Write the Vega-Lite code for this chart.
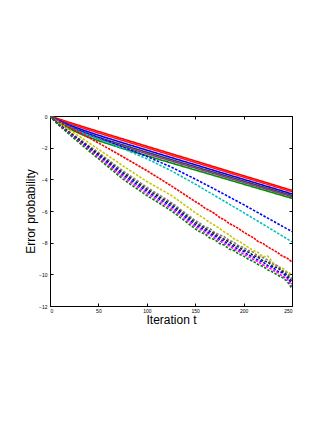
{
  "$schema": "https://vega.github.io/schema/vega-lite/v6.json",
  "width": 242,
  "height": 190,
  "autosize": {"type": "none"},
  "padding": {"left": 50, "top": 116, "right": 40, "bottom": 124},
  "background": "white",
  "config": {
    "view": {"stroke": "black", "strokeWidth": 1},
    "axis": {
      "grid": false,
      "domainColor": "black",
      "tickColor": "black",
      "tickSize": -3,
      "labelFont": "Liberation Sans",
      "labelFontSize": 5,
      "labelColor": "black",
      "titleFont": "Liberation Sans",
      "titleFontWeight": "normal",
      "titleFontSize": 12,
      "titleColor": "black"
    }
  },
  "layer": [
    {
      "data": {"values": [
        {"s":"S1","x":0,"y":0},{"s":"S1","x":5,"y":-0.104},{"s":"S1","x":10,"y":-0.206},{"s":"S1","x":20,"y":-0.404},{"s":"S1","x":35,"y":-0.692},{"s":"S1","x":50,"y":-0.976},{"s":"S1","x":75,"y":-1.444},{"s":"S1","x":100,"y":-1.91},{"s":"S1","x":125,"y":-2.375},{"s":"S1","x":150,"y":-2.84},{"s":"S1","x":175,"y":-3.305},{"s":"S1","x":200,"y":-3.77},{"s":"S1","x":225,"y":-4.235},{"s":"S1","x":250,"y":-4.7},
        {"s":"S2","x":0,"y":0},{"s":"S2","x":5,"y":-0.128},{"s":"S2","x":10,"y":-0.248},{"s":"S2","x":20,"y":-0.471},{"s":"S2","x":35,"y":-0.78},{"s":"S2","x":50,"y":-1.072},{"s":"S2","x":75,"y":-1.544},{"s":"S2","x":100,"y":-2.009},{"s":"S2","x":125,"y":-2.473},{"s":"S2","x":150,"y":-2.935},{"s":"S2","x":175,"y":-3.398},{"s":"S2","x":200,"y":-3.86},{"s":"S2","x":225,"y":-4.323},{"s":"S2","x":250,"y":-4.785},
        {"s":"S3","x":0,"y":0},{"s":"S3","x":5,"y":-0.163},{"s":"S3","x":10,"y":-0.31},{"s":"S3","x":20,"y":-0.57},{"s":"S3","x":35,"y":-0.908},{"s":"S3","x":50,"y":-1.214},{"s":"S3","x":75,"y":-1.692},{"s":"S3","x":100,"y":-2.158},{"s":"S3","x":125,"y":-2.62},{"s":"S3","x":150,"y":-3.08},{"s":"S3","x":175,"y":-3.54},{"s":"S3","x":200,"y":-4.0},{"s":"S3","x":225,"y":-4.46},{"s":"S3","x":250,"y":-4.92},
        {"s":"S4","x":0,"y":0},{"s":"S4","x":5,"y":-0.195},{"s":"S4","x":10,"y":-0.367},{"s":"S4","x":20,"y":-0.661},{"s":"S4","x":35,"y":-1.025},{"s":"S4","x":50,"y":-1.341},{"s":"S4","x":75,"y":-1.824},{"s":"S4","x":100,"y":-2.287},{"s":"S4","x":125,"y":-2.745},{"s":"S4","x":150,"y":-3.2},{"s":"S4","x":175,"y":-3.655},{"s":"S4","x":200,"y":-4.11},{"s":"S4","x":225,"y":-4.565},{"s":"S4","x":250,"y":-5.02},
        {"s":"S5","x":0,"y":0},{"s":"S5","x":5,"y":-0.218},{"s":"S5","x":10,"y":-0.407},{"s":"S5","x":20,"y":-0.725},{"s":"S5","x":35,"y":-1.109},{"s":"S5","x":50,"y":-1.433},{"s":"S5","x":75,"y":-1.919},{"s":"S5","x":100,"y":-2.381},{"s":"S5","x":125,"y":-2.838},{"s":"S5","x":150,"y":-3.29},{"s":"S5","x":175,"y":-3.743},{"s":"S5","x":200,"y":-4.195},{"s":"S5","x":225,"y":-4.648},{"s":"S5","x":250,"y":-5.1},
        {"s":"S6","x":0,"y":0},{"s":"S6","x":5,"y":-0.25},{"s":"S6","x":10,"y":-0.464},{"s":"S6","x":20,"y":-0.816},{"s":"S6","x":35,"y":-1.226},{"s":"S6","x":50,"y":-1.561},{"s":"S6","x":75,"y":-2.05},{"s":"S6","x":100,"y":-2.51},{"s":"S6","x":125,"y":-2.963},{"s":"S6","x":150,"y":-3.41},{"s":"S6","x":175,"y":-3.858},{"s":"S6","x":200,"y":-4.305},{"s":"S6","x":225,"y":-4.753},{"s":"S6","x":250,"y":-5.2},
        {"s":"S7","x":0,"y":0},{"s":"S7","x":5,"y":-0.19},{"s":"S7","x":10,"y":-0.36},{"s":"S7","x":20,"y":-0.65},{"s":"S7","x":35,"y":-1.02},{"s":"S7","x":50,"y":-1.36},{"s":"S7","x":75,"y":-1.95},{"s":"S7","x":100,"y":-2.55},{"s":"S7","x":125,"y":-3.22},{"s":"S7","x":150,"y":-3.98},{"s":"S7","x":175,"y":-4.78},{"s":"S7","x":200,"y":-5.6},{"s":"S7","x":225,"y":-6.45},{"s":"S7","x":250,"y":-7.3},
        {"s":"S8","x":0,"y":0},{"s":"S8","x":5,"y":-0.2},{"s":"S8","x":10,"y":-0.38},{"s":"S8","x":20,"y":-0.68},{"s":"S8","x":35,"y":-1.1},{"s":"S8","x":50,"y":-1.45},{"s":"S8","x":75,"y":-2.05},{"s":"S8","x":100,"y":-2.7},{"s":"S8","x":125,"y":-3.45},{"s":"S8","x":150,"y":-4.3},{"s":"S8","x":175,"y":-5.2},{"s":"S8","x":200,"y":-6.1},{"s":"S8","x":225,"y":-7.02},{"s":"S8","x":250,"y":-7.95},
        {"s":"S9","x":0,"y":0},{"s":"S9","x":5,"y":-0.22},{"s":"S9","x":10,"y":-0.4},{"s":"S9","x":20,"y":-0.72},{"s":"S9","x":35,"y":-1.2},{"s":"S9","x":50,"y":-1.7},{"s":"S9","x":75,"y":-2.56},{"s":"S9","x":100,"y":-3.45},{"s":"S9","x":125,"y":-4.4},{"s":"S9","x":150,"y":-5.4},{"s":"S9","x":155,"y":-5.58},{"s":"S9","x":160,"y":-5.82},{"s":"S9","x":165,"y":-5.98},{"s":"S9","x":170,"y":-6.16},{"s":"S9","x":175,"y":-6.4},{"s":"S9","x":180,"y":-6.55},{"s":"S9","x":185,"y":-6.78},{"s":"S9","x":190,"y":-6.94},{"s":"S9","x":195,"y":-7.12},{"s":"S9","x":200,"y":-7.33},{"s":"S9","x":205,"y":-7.52},{"s":"S9","x":210,"y":-7.68},{"s":"S9","x":215,"y":-7.93},{"s":"S9","x":220,"y":-8.05},{"s":"S9","x":225,"y":-8.27},{"s":"S9","x":230,"y":-8.44},{"s":"S9","x":235,"y":-8.62},{"s":"S9","x":240,"y":-8.85},{"s":"S9","x":245,"y":-8.98},{"s":"S9","x":250,"y":-9.22},
        {"s":"S10","x":0,"y":0},{"s":"S10","x":5,"y":-0.25},{"s":"S10","x":10,"y":-0.47},{"s":"S10","x":20,"y":-0.87},{"s":"S10","x":35,"y":-1.48},{"s":"S10","x":50,"y":-2.1},{"s":"S10","x":75,"y":-3.13},{"s":"S10","x":100,"y":-4.14},{"s":"S10","x":125,"y":-5.0},{"s":"S10","x":150,"y":-6.1},{"s":"S10","x":155,"y":-6.3},{"s":"S10","x":160,"y":-6.5},{"s":"S10","x":165,"y":-6.72},{"s":"S10","x":170,"y":-6.9},{"s":"S10","x":175,"y":-7.1},{"s":"S10","x":180,"y":-7.32},{"s":"S10","x":185,"y":-7.5},{"s":"S10","x":190,"y":-7.75},{"s":"S10","x":195,"y":-7.9},{"s":"S10","x":200,"y":-8.1},{"s":"S10","x":205,"y":-8.3},{"s":"S10","x":210,"y":-8.5},{"s":"S10","x":215,"y":-8.62},{"s":"S10","x":220,"y":-8.9},{"s":"S10","x":225,"y":-8.85},{"s":"S10","x":230,"y":-9.25},{"s":"S10","x":235,"y":-9.5},{"s":"S10","x":240,"y":-9.6},{"s":"S10","x":245,"y":-9.85},{"s":"S10","x":250,"y":-10.0},
        {"s":"S11","x":0,"y":0},{"s":"S11","x":5,"y":-0.3},{"s":"S11","x":10,"y":-0.55},{"s":"S11","x":20,"y":-1.0},{"s":"S11","x":35,"y":-1.65},{"s":"S11","x":50,"y":-2.3},{"s":"S11","x":75,"y":-3.45},{"s":"S11","x":100,"y":-4.5},{"s":"S11","x":125,"y":-5.45},{"s":"S11","x":150,"y":-6.6},{"s":"S11","x":155,"y":-6.78},{"s":"S11","x":160,"y":-7.0},{"s":"S11","x":165,"y":-7.1},{"s":"S11","x":170,"y":-7.35},{"s":"S11","x":175,"y":-7.5},{"s":"S11","x":180,"y":-7.62},{"s":"S11","x":185,"y":-7.85},{"s":"S11","x":190,"y":-7.98},{"s":"S11","x":195,"y":-8.2},{"s":"S11","x":200,"y":-8.3},{"s":"S11","x":205,"y":-8.5},{"s":"S11","x":210,"y":-8.6},{"s":"S11","x":215,"y":-8.85},{"s":"S11","x":220,"y":-8.95},{"s":"S11","x":225,"y":-9.1},{"s":"S11","x":230,"y":-9.35},{"s":"S11","x":235,"y":-9.45},{"s":"S11","x":240,"y":-9.75},{"s":"S11","x":245,"y":-9.9},{"s":"S11","x":250,"y":-10.3},
        {"s":"S12","x":0,"y":0},{"s":"S12","x":5,"y":-0.31},{"s":"S12","x":10,"y":-0.57},{"s":"S12","x":20,"y":-1.04},{"s":"S12","x":35,"y":-1.72},{"s":"S12","x":50,"y":-2.4},{"s":"S12","x":75,"y":-3.57},{"s":"S12","x":100,"y":-4.62},{"s":"S12","x":125,"y":-5.57},{"s":"S12","x":150,"y":-6.72},{"s":"S12","x":155,"y":-6.92},{"s":"S12","x":160,"y":-7.08},{"s":"S12","x":165,"y":-7.27},{"s":"S12","x":170,"y":-7.45},{"s":"S12","x":175,"y":-7.64},{"s":"S12","x":180,"y":-7.78},{"s":"S12","x":185,"y":-7.95},{"s":"S12","x":190,"y":-8.15},{"s":"S12","x":195,"y":-8.28},{"s":"S12","x":200,"y":-8.47},{"s":"S12","x":205,"y":-8.6},{"s":"S12","x":210,"y":-8.8},{"s":"S12","x":215,"y":-8.92},{"s":"S12","x":220,"y":-9.15},{"s":"S12","x":225,"y":-9.22},{"s":"S12","x":230,"y":-9.5},{"s":"S12","x":235,"y":-9.58},{"s":"S12","x":240,"y":-9.82},{"s":"S12","x":245,"y":-10.05},{"s":"S12","x":250,"y":-10.45},
        {"s":"S13","x":0,"y":0},{"s":"S13","x":5,"y":-0.32},{"s":"S13","x":10,"y":-0.59},{"s":"S13","x":20,"y":-1.08},{"s":"S13","x":35,"y":-1.79},{"s":"S13","x":50,"y":-2.5},{"s":"S13","x":75,"y":-3.7},{"s":"S13","x":100,"y":-4.75},{"s":"S13","x":125,"y":-5.7},{"s":"S13","x":150,"y":-6.85},{"s":"S13","x":155,"y":-7.05},{"s":"S13","x":160,"y":-7.2},{"s":"S13","x":165,"y":-7.42},{"s":"S13","x":170,"y":-7.55},{"s":"S13","x":175,"y":-7.78},{"s":"S13","x":180,"y":-7.9},{"s":"S13","x":185,"y":-8.12},{"s":"S13","x":190,"y":-8.25},{"s":"S13","x":195,"y":-8.45},{"s":"S13","x":200,"y":-8.55},{"s":"S13","x":205,"y":-8.78},{"s":"S13","x":210,"y":-8.9},{"s":"S13","x":215,"y":-9.1},{"s":"S13","x":220,"y":-9.22},{"s":"S13","x":225,"y":-9.45},{"s":"S13","x":230,"y":-9.55},{"s":"S13","x":235,"y":-9.8},{"s":"S13","x":240,"y":-9.9},{"s":"S13","x":245,"y":-10.2},{"s":"S13","x":250,"y":-10.6},
        {"s":"S14","x":0,"y":0},{"s":"S14","x":5,"y":-0.33},{"s":"S14","x":10,"y":-0.61},{"s":"S14","x":20,"y":-1.12},{"s":"S14","x":35,"y":-1.86},{"s":"S14","x":50,"y":-2.6},{"s":"S14","x":75,"y":-3.83},{"s":"S14","x":100,"y":-4.88},{"s":"S14","x":125,"y":-5.83},{"s":"S14","x":150,"y":-6.98},{"s":"S14","x":155,"y":-7.15},{"s":"S14","x":160,"y":-7.35},{"s":"S14","x":165,"y":-7.5},{"s":"S14","x":170,"y":-7.7},{"s":"S14","x":175,"y":-7.88},{"s":"S14","x":180,"y":-8.05},{"s":"S14","x":185,"y":-8.2},{"s":"S14","x":190,"y":-8.4},{"s":"S14","x":195,"y":-8.55},{"s":"S14","x":200,"y":-8.72},{"s":"S14","x":205,"y":-8.88},{"s":"S14","x":210,"y":-9.05},{"s":"S14","x":215,"y":-9.2},{"s":"S14","x":220,"y":-9.4},{"s":"S14","x":225,"y":-9.55},{"s":"S14","x":230,"y":-9.72},{"s":"S14","x":235,"y":-9.88},{"s":"S14","x":240,"y":-10.1},{"s":"S14","x":245,"y":-10.3},{"s":"S14","x":250,"y":-10.75},
        {"s":"S15","x":0,"y":0},{"s":"S15","x":5,"y":-0.34},{"s":"S15","x":10,"y":-0.63},{"s":"S15","x":20,"y":-1.16},{"s":"S15","x":35,"y":-1.94},{"s":"S15","x":50,"y":-2.7},{"s":"S15","x":75,"y":-3.97},{"s":"S15","x":100,"y":-5.02},{"s":"S15","x":125,"y":-5.97},{"s":"S15","x":150,"y":-7.12},{"s":"S15","x":155,"y":-7.32},{"s":"S15","x":160,"y":-7.45},{"s":"S15","x":165,"y":-7.7},{"s":"S15","x":170,"y":-7.8},{"s":"S15","x":175,"y":-8.05},{"s":"S15","x":180,"y":-8.15},{"s":"S15","x":185,"y":-8.4},{"s":"S15","x":190,"y":-8.5},{"s":"S15","x":195,"y":-8.72},{"s":"S15","x":200,"y":-8.85},{"s":"S15","x":205,"y":-9.05},{"s":"S15","x":210,"y":-9.18},{"s":"S15","x":215,"y":-9.38},{"s":"S15","x":220,"y":-9.5},{"s":"S15","x":225,"y":-9.72},{"s":"S15","x":230,"y":-9.85},{"s":"S15","x":235,"y":-10.05},{"s":"S15","x":240,"y":-10.2},{"s":"S15","x":245,"y":-10.45},{"s":"S15","x":250,"y":-10.9}
      ]},
      "mark": {"type": "line", "clip": true},
      "encoding": {
        "x": {"field": "x", "type": "quantitative", "scale": {"domain": [0, 250], "nice": false},
              "axis": {"values": [0, 50, 100, 150, 200, 250], "title": "Iteration t", "labelPadding": 5, "titlePadding": 1}},
        "y": {"field": "y", "type": "quantitative", "scale": {"domain": [-12, 0], "nice": false},
              "axis": {"values": [-12, -10, -8, -6, -4, -2, 0], "title": "Error probability", "labelPadding": 6, "titlePadding": 1}},
        "color": {"field": "s", "type": "nominal", "legend": null,
                  "scale": {"domain": ["S1","S2","S3","S4","S5","S6","S7","S8","S9","S10","S11","S12","S13","S14","S15"],
                            "range": ["#ff0000","#ff1a1a","#0000ff","#404040","#8a3a8a","#009000","#0000ff","#00bfbf","#ff0000","#c8c800","#808080","#202020","#0000ff","#ff00ff","#008000"]}},
        "strokeDash": {"field": "s", "type": "nominal", "legend": null,
                  "scale": {"domain": ["S1","S2","S3","S4","S5","S6","S7","S8","S9","S10","S11","S12","S13","S14","S15"],
                            "range": [[1,0],[1,0],[1,0],[1,0],[1,0],[1,0],[2.5,1.5],[2.5,1.5],[2.5,1],[2.5,1.5],[2.5,1.5],[2.5,1.5],[2.5,1.5],[2.5,1.5],[2.5,1.5]]}},
        "strokeWidth": {"field": "s", "type": "nominal", "legend": null,
                  "scale": {"domain": ["S1","S2","S3","S4","S5","S6","S7","S8","S9","S10","S11","S12","S13","S14","S15"],
                            "range": [1.6,1.6,1.6,1.6,1.6,1.6,1,1,1.3,1,1,1,1,1,1]}}
      }
    },
    {
      "data": {"values": [{"x": 0, "y": 0}]},
      "mark": {"type": "point", "opacity": 0},
      "encoding": {
        "x": {"field": "x", "type": "quantitative", "axis": {"orient": "top", "values": [0, 50, 100, 150, 200, 250], "labels": false, "title": null}},
        "y": {"field": "y", "type": "quantitative", "axis": {"orient": "right", "values": [-12, -10, -8, -6, -4, -2, 0], "labels": false, "title": null}}
      }
    }
  ],
  "resolve": {"axis": {"x": "independent", "y": "independent"}}
}
